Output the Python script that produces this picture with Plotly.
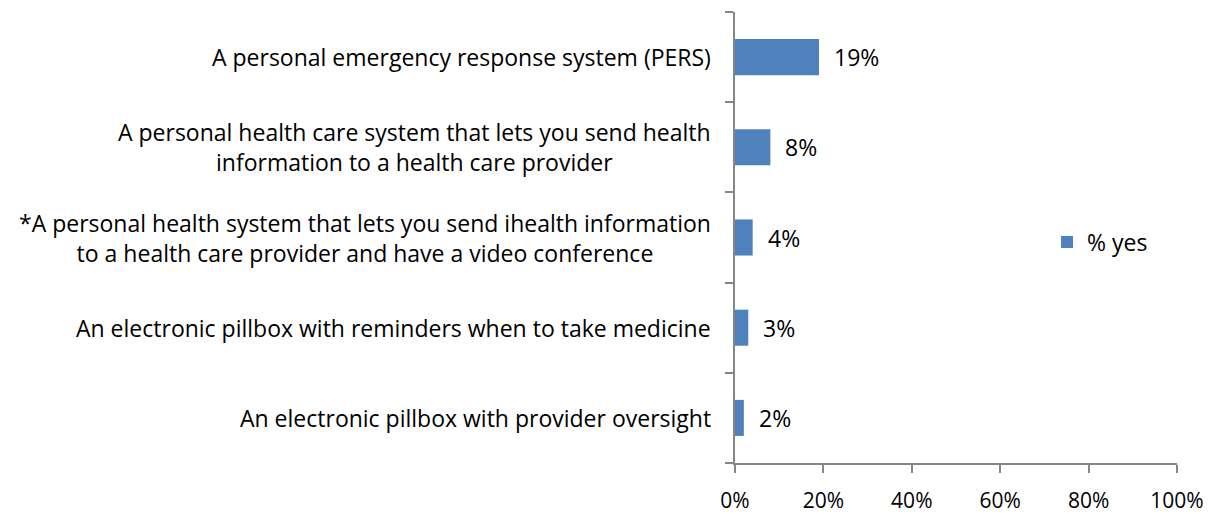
import plotly.graph_objects as go

# Share of respondents answering "yes" for each technology
categories = [
    "A personal emergency response system (PERS)",
    "A personal health care system that lets you send health<br>information to a health care provider",
    "*A personal health system that lets you send ihealth information<br>to a health care provider and have a video conference",
    "An electronic pillbox with reminders when to take medicine",
    "An electronic pillbox with provider oversight",
]
pct_yes = [19, 8, 4, 3, 2]
x_ticks = [0, 20, 40, 60, 80, 100]
x_tick_labels = ["0%", "20%", "40%", "60%", "80%", "100%"]

FONT = "Open Sans, Calibri, Carlito, sans-serif"
FS = 23
TICK_FS = 21
BAR = "#4F81BD"
AXIS = "#868686"

fig = go.Figure()
fig.add_trace(go.Bar(
    x=pct_yes,
    y=categories,
    orientation="h",
    width=0.4,
    marker=dict(color=BAR, line=dict(width=0)),
    name="% yes",
    showlegend=True,
))

annotations = []
# category labels, centred line-by-line, right edge next to the axis
for c in categories:
    annotations.append(dict(
        x=0, y=c, xref="paper", yref="y",
        text=c, showarrow=False, xanchor="right", yanchor="middle",
        align="center", xshift=-22,
        font=dict(family=FONT, size=FS, color="#000000"),
    ))
# data labels to the right of each bar
for c, v in zip(categories, pct_yes):
    annotations.append(dict(
        x=v, y=c, xref="x", yref="y",
        text=f"{v}%", showarrow=False, xanchor="left", yanchor="middle",
        xshift=13,
        font=dict(family=FONT, size=FS, color="#000000"),
    ))

fig.update_layout(
    width=1219, height=516,
    margin=dict(l=735, r=42, t=12, b=53),
    paper_bgcolor="white", plot_bgcolor="white",
    font=dict(family=FONT, size=FS, color="#000000"),
    bargap=0.6,
    annotations=annotations,
    legend=dict(
        x=0.706, y=0.49, xanchor="left", yanchor="middle",
        bgcolor="rgba(0,0,0,0)", itemwidth=30,
        font=dict(family=FONT, size=FS),
    ),
    xaxis=dict(
        range=[0, 100], tickvals=x_ticks, ticktext=x_tick_labels,
        showgrid=False, zeroline=False,
        showline=True, linecolor=AXIS, linewidth=1.5,
        ticks="outside", ticklen=8, tickcolor=AXIS, tickwidth=1.5,
        ticklabelstandoff=10, automargin=False,
        tickfont=dict(family=FONT, size=TICK_FS),
        fixedrange=True,
    ),
    yaxis=dict(
        categoryorder="array", categoryarray=categories[::-1],
        showticklabels=False, showgrid=False, zeroline=False,
        showline=True, linecolor=AXIS, linewidth=1.5,
        ticks="outside", tickson="boundaries", ticklen=8,
        tickcolor=AXIS, tickwidth=1.5, automargin=False,
        fixedrange=True,
    ),
)

fig.write_html("out.html")
